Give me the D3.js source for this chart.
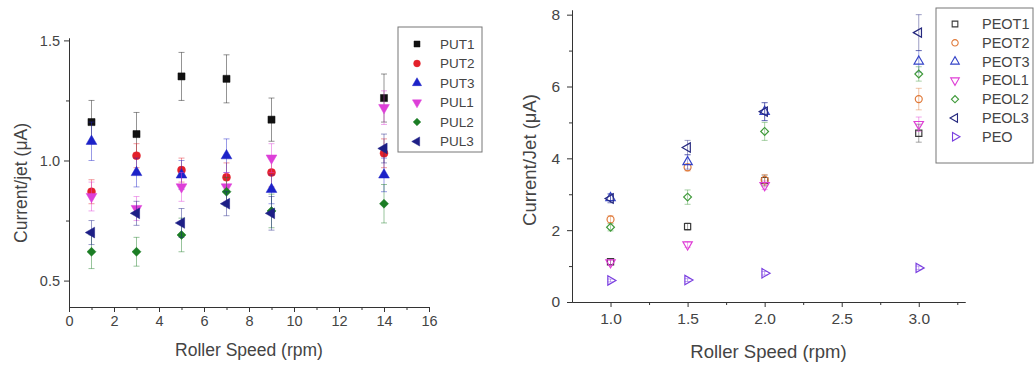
<!DOCTYPE html>
<html lang="en">
<head>
<meta charset="utf-8">
<title>Current per jet vs roller speed</title>
<style>
	body {
		margin: 0;
		padding: 0;
		background: #fff;
		overflow: hidden;
	}
	svg {
		display: block;
		font-family: 'Liberation Sans', Arial, sans-serif;
	}
	.axis path, .axis line {
		stroke: #333;
		stroke-width: 1;
	}
	.axis text {
		fill: #444;
	}
	.label {
		fill: #444;
	}
	.legend text {
		fill: #444;
	}
</style>
</head>
<body>
<svg id="chart" width="1036" height="367"></svg>
<script src="https://cdnjs.cloudflare.com/ajax/libs/d3/7.8.5/d3.min.js"></script>
<script>
	// left panel: PU fibres
	var speedsL = [1, 3, 5, 7, 9, 14];
	var namesL = ['PUT1', 'PUT2', 'PUT3', 'PUL1', 'PUL2', 'PUL3'];
	var PUT1 = [1.16, 1.11, 1.35, 1.34, 1.17, 1.26];
	var PUT2 = [0.87, 1.02, 0.96, 0.93, 0.95, 1.03];
	var PUT3 = [1.08, 0.95, 0.94, 1.02, 0.88, 0.94];
	var PUL1 = [0.85, 0.80, 0.89, 0.89, 1.01, 1.22];
	var PUL2 = [0.62, 0.62, 0.69, 0.87, 0.79, 0.82];
	var PUL3 = [0.70, 0.78, 0.74, 0.82, 0.78, 1.05];
	var errPUT1 = [0.09, 0.09, 0.10, 0.10, 0.09, 0.10];
	var errPUT2 = [0.05, 0.05, 0.05, 0.06, 0.06, 0.06];
	var errPUT3 = [0.08, 0.06, 0.06, 0.07, 0.06, 0.07];
	var errPUL1 = [0.06, 0.05, 0.06, 0.06, 0.06, 0.07];
	var errPUL2 = [0.07, 0.06, 0.07, 0.06, 0.07, 0.08];
	var errPUL3 = [0.05, 0.05, 0.06, 0.05, 0.07, 0.06];
	var xTicksL = [0, 2, 4, 6, 8, 10, 12, 14, 16];
	var yTicksL = [0.5, 1.0, 1.5];

	// right panel: PEO fibres
	var speedsR = [1.0, 1.5, 2.0, 3.0];
	var namesR = ['PEOT1', 'PEOT2', 'PEOT3', 'PEOL1', 'PEOL2', 'PEOL3', 'PEO'];
	var PEOT1 = [1.12, 2.10, 3.38, 4.70];
	var PEOT2 = [2.30, 3.75, 3.40, 5.65];
	var PEOT3 = [2.90, 3.90, 5.30, 6.70];
	var PEOL1 = [1.10, 1.60, 3.25, 4.95];
	var PEOL2 = [2.08, 2.92, 4.75, 6.35];
	var PEOL3 = [2.88, 4.30, 5.30, 7.50];
	var PEO = [0.60, 0.61, 0.80, 0.95];
	var errPEOT1 = [0.08, 0.10, 0.15, 0.25];
	var errPEOT2 = [0.10, 0.10, 0.15, 0.30];
	var errPEOT3 = [0.12, 0.20, 0.25, 0.30];
	var errPEOL1 = [0.08, 0.08, 0.12, 0.20];
	var errPEOL2 = [0.10, 0.20, 0.25, 0.20];
	var errPEOL3 = [0.12, 0.20, 0.25, 0.50];
	var errPEO = [0.04, 0.04, 0.05, 0.05];
	var xTicksR = [1.0, 1.5, 2.0, 2.5, 3.0];
	var yTicksR = [0, 2, 4, 6, 8];

	var svg = d3.select('#chart');

	var seriesL = [
		{name: 'PUT1', y: PUT1, err: errPUT1, color: '#111111', sym: d3.symbolSquare, rot: 0},
		{name: 'PUT2', y: PUT2, err: errPUT2, color: '#e3202a', sym: d3.symbolCircle, rot: 0},
		{name: 'PUT3', y: PUT3, err: errPUT3, color: '#1c22c8', sym: d3.symbolTriangle, rot: 0},
		{name: 'PUL1', y: PUL1, err: errPUL1, color: '#dd3fd8', sym: d3.symbolTriangle, rot: 180},
		{name: 'PUL2', y: PUL2, err: errPUL2, color: '#1b7d24', sym: d3.symbolSquare, rot: 45},
		{name: 'PUL3', y: PUL3, err: errPUL3, color: '#1d1f86', sym: d3.symbolTriangle, rot: -90}
	];

	var seriesR = [
		{name: 'PEOT1', y: PEOT1, err: errPEOT1, color: '#3a3a3a', sym: d3.symbolSquare, rot: 0},
		{name: 'PEOT2', y: PEOT2, err: errPEOT2, color: '#e07a3a', sym: d3.symbolCircle, rot: 0},
		{name: 'PEOT3', y: PEOT3, err: errPEOT3, color: '#3544c8', sym: d3.symbolTriangle, rot: 0},
		{name: 'PEOL1', y: PEOL1, err: errPEOL1, color: '#df3fd6', sym: d3.symbolTriangle, rot: 180},
		{name: 'PEOL2', y: PEOL2, err: errPEOL2, color: '#3f9a3a', sym: d3.symbolSquare, rot: 45},
		{name: 'PEOL3', y: PEOL3, err: errPEOL3, color: '#25287e', sym: d3.symbolTriangle, rot: -90},
		{name: 'PEO', y: PEO, err: errPEO, color: '#7a3fe0', sym: d3.symbolTriangle, rot: 90}
	];

	function symbolPath(s, size) {
		// squares rotated into diamonds need a little less area to look the same
		var area = s.rot === 45 ? size * 0.8 : size;
		return d3.symbol().type(s.sym).size(area)();
	}

	function drawPanel(opt) {
		var g = svg.append('g');
		var x = d3.scaleLinear().domain(opt.xDomain).range(opt.xRange);
		var y = d3.scaleLinear().domain(opt.yDomain).range(opt.yRange);

		// minor ticks first, majors on top
		g.append('g').attr('class', 'axis')
			.attr('transform', 'translate(0,' + opt.yRange[0] + ')')
			.call(d3.axisBottom(x).tickValues(opt.xMinor).tickSize(3).tickSizeOuter(0).tickFormat(''));
		g.append('g').attr('class', 'axis')
			.attr('transform', 'translate(' + opt.xRange[0] + ',0)')
			.call(d3.axisLeft(y).tickValues(opt.yMinor).tickSize(3).tickSizeOuter(0).tickFormat(''));

		g.append('g').attr('class', 'axis')
			.attr('transform', 'translate(0,' + opt.yRange[0] + ')')
			.call(d3.axisBottom(x).tickValues(opt.xTicks).tickSize(5).tickSizeOuter(0)
				.tickPadding(opt.xPad).tickFormat(opt.xFormat))
			.selectAll('text').style('font-size', opt.tickFont + 'px');
		g.append('g').attr('class', 'axis')
			.attr('transform', 'translate(' + opt.xRange[0] + ',0)')
			.call(d3.axisLeft(y).tickValues(opt.yTicks).tickSize(5).tickSizeOuter(0)
				.tickPadding(opt.yPad).tickFormat(opt.yFormat))
			.selectAll('text').style('font-size', opt.tickFont + 'px');

		g.selectAll('.axis .domain').attr('stroke', '#333');

		// axis titles
		g.append('text').attr('class', 'label')
			.style('font-size', opt.labelFont + 'px')
			.attr('x', (opt.xRange[0] + opt.xRange[1]) / 2)
			.attr('y', opt.xLabelY)
			.attr('text-anchor', 'middle')
			.text('Roller Speed (rpm)');
		g.append('text').attr('class', 'label')
			.style('font-size', opt.labelFont + 'px')
			.attr('transform', 'translate(' + opt.yLabelX + ',' + opt.yLabelY + ') rotate(-90)')
			.attr('text-anchor', 'middle')
			.text(opt.yLabel);

		// error bars and markers, series in order
		opt.series.forEach(function (s) {
			var pts = opt.speeds.map(function (v, i) {
				return {x: v, y: s.y[i], e: s.err[i]};
			});
			var sg = g.append('g');
			var eb = sg.selectAll('.eb').data(pts).enter().append('g')
				.attr('stroke', s.color)
				.attr('stroke-opacity', 0.45)
				.attr('stroke-width', 1);
			eb.append('line')
				.attr('x1', function (d) { return x(d.x); })
				.attr('x2', function (d) { return x(d.x); })
				.attr('y1', function (d) { return y(d.y - d.e); })
				.attr('y2', function (d) { return y(d.y + d.e); });
			eb.append('line')
				.attr('x1', function (d) { return x(d.x) - 3; })
				.attr('x2', function (d) { return x(d.x) + 3; })
				.attr('y1', function (d) { return y(d.y + d.e); })
				.attr('y2', function (d) { return y(d.y + d.e); });
			eb.append('line')
				.attr('x1', function (d) { return x(d.x) - 3; })
				.attr('x2', function (d) { return x(d.x) + 3; })
				.attr('y1', function (d) { return y(d.y - d.e); })
				.attr('y2', function (d) { return y(d.y - d.e); });

			sg.selectAll('.pt').data(pts).enter().append('path')
				.attr('d', symbolPath(s, opt.symSize))
				.attr('transform', function (d) {
					return 'translate(' + x(d.x) + ',' + y(d.y) + ') rotate(' + s.rot + ')';
				})
				.attr('fill', opt.filled ? s.color : 'none')
				.attr('stroke', s.color)
				.attr('stroke-width', opt.filled ? 0.5 : 1.2);
		});

		// legend
		var lg = g.append('g').attr('class', 'legend');
		lg.append('rect')
			.attr('x', opt.legend.x).attr('y', opt.legend.y)
			.attr('width', opt.legend.w).attr('height', opt.legend.h)
			.attr('fill', 'none').attr('stroke', '#777').attr('stroke-width', 1);
		opt.series.forEach(function (s, i) {
			var ly = opt.legend.y + opt.legend.first + i * opt.legend.step;
			lg.append('path')
				.attr('d', symbolPath(s, opt.legSymSize))
				.attr('transform', 'translate(' + (opt.legend.x + opt.legend.symDx) + ',' + ly + ') rotate(' + s.rot + ')')
				.attr('fill', opt.filled ? s.color : 'none')
				.attr('stroke', s.color)
				.attr('stroke-width', opt.filled ? 0.5 : 1.1);
			lg.append('text')
				.style('font-size', opt.legend.font + 'px')
				.attr('x', opt.legend.x + opt.legend.textDx)
				.attr('y', ly)
				.attr('dy', '0.35em')
				.text(s.name);
		});
	}

	drawPanel({
		series: seriesL,
		speeds: speedsL,
		xDomain: [0, 16], xRange: [69, 429],
		yDomain: [0.39, 1.51], yRange: [307, 38],
		xTicks: xTicksL, xMinor: d3.range(0, 17, 1),
		yTicks: yTicksL, yMinor: [0.75, 1.25],
		xFormat: d3.format('d'), yFormat: d3.format('.1f'),
		xPad: 4, yPad: 4, tickFont: 14.5, labelFont: 17.5,
		xLabelY: 356,
		yLabel: 'Current/jet (\u03bcA)', yLabelX: 27, yLabelY: 183,
		filled: true, symSize: 50, legSymSize: 36,
		legend: {x: 398, y: 27, w: 84, h: 125, first: 17, step: 19.5, symDx: 19, textDx: 42, font: 13.5}
	});

	drawPanel({
		series: seriesR,
		speeds: speedsR,
		xDomain: [0.75, 3.3], xRange: [572, 965],
		yDomain: [0, 8.13], yRange: [302, 10],
		xTicks: xTicksR, xMinor: [1.25, 1.75, 2.25, 2.75, 3.25],
		yTicks: yTicksR, yMinor: [1, 3, 5, 7],
		xFormat: d3.format('.1f'), yFormat: d3.format('d'),
		xPad: 6, yPad: 7, tickFont: 15.5, labelFont: 18.5,
		xLabelY: 358,
		yLabel: 'Current/Jet (\u03bcA)', yLabelX: 536, yLabelY: 160,
		filled: false, symSize: 38, legSymSize: 32,
		legend: {x: 936, y: 8, w: 97, h: 155, first: 16, step: 18.8, symDx: 19, textDx: 46, font: 14.5}
	});
</script>
</body>
</html>
